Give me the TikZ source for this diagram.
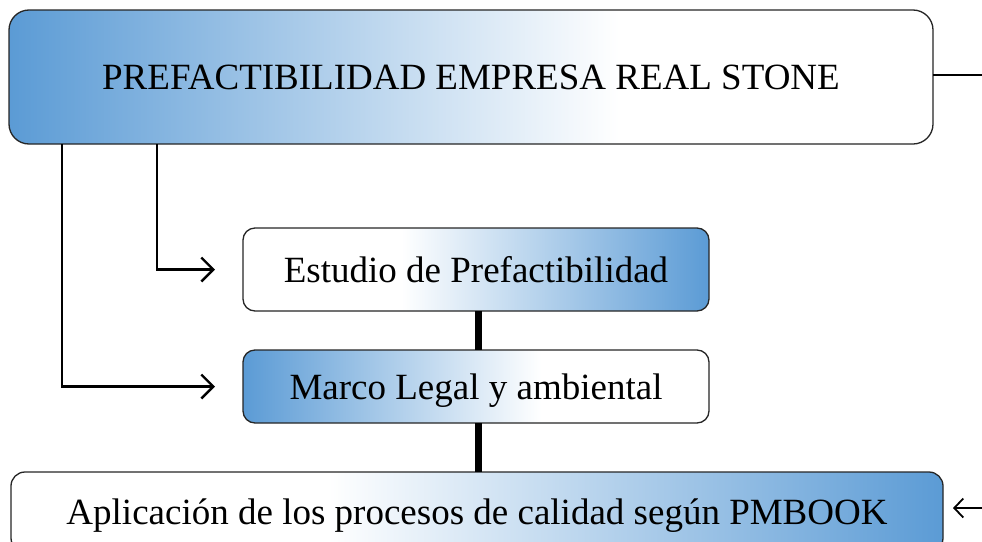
\documentclass[tikz,border=0pt]{standalone}
\usepackage{fontspec}
\setmainfont{Liberation Serif}
\usetikzlibrary{arrows.meta}
\definecolor{accblue}{RGB}{91,155,213}
\pgfdeclarehorizontalshading{blueleftlong}{100bp}{color(0bp)=(accblue); color(25bp)=(accblue); color(58bp)=(white); color(100bp)=(white)}
\pgfdeclarehorizontalshading{blueleftshort}{100bp}{color(0bp)=(accblue); color(25bp)=(accblue); color(57bp)=(white); color(100bp)=(white)}
\pgfdeclarehorizontalshading{blueright}{100bp}{color(0bp)=(white); color(42bp)=(white); color(75bp)=(accblue); color(100bp)=(accblue)}
\tikzset{
  box/.style={draw=black!85, line width=1.3pt, inner sep=0pt, outer sep=0pt,
    text height=25pt, text depth=0pt, font=\fontsize{37}{44}\selectfont},
  conn/.style={line width=2.4pt, -{Straight Barb[length=12pt,width=24pt]}},
  thick link/.style={line width=7pt}
}
\begin{document}
\begin{tikzpicture}[x=1pt,y=-1pt]
\useasboundingbox (0,0) rectangle (982,541);
\clip (0,0) rectangle (982,541);
\node[box, rounded corners=20pt, shading=blueleftlong, minimum width=924pt, minimum height=134pt] (top) at (471,77) {PREFACTIBILIDAD EMPRESA REAL STONE};
\node[box, rounded corners=12pt, shading=blueright, minimum width=466pt, minimum height=83pt] (estudio) at (476,269.5) {Estudio de Prefactibilidad};
\node[box, rounded corners=12pt, shading=blueleftshort, minimum width=466pt, minimum height=73pt] (marco) at (476,386.5) {Marco Legal y ambiental};
\node[box, rounded corners=14pt, shading=blueright, minimum width=932pt, minimum height=80pt] (apl) at (477,512) {Aplicación de los procesos de calidad según PMBOOK};
\coordinate (r1) at (982,75);
\coordinate (r2) at (982,508);
\draw[conn, shorten >=28pt] (top.south -| 157,0) |- (estudio.west);
\draw[conn, shorten >=28pt] (top.south -| 62,0) |- (marco.west);
\draw[thick link] ([xshift=2.5pt]estudio.south) -- ([xshift=2.5pt]marco.north);
\draw[thick link] ([xshift=2.5pt]marco.south) -- ([xshift=1.5pt]apl.north);
\draw[line width=2.8pt] (top.east |- r1) -- (r1);
\draw[line width=1.8pt, -{Straight Barb[length=9pt,width=19pt]}, shorten >=10pt] (r2) -- (apl.east |- r2);
\end{tikzpicture}
\end{document}
